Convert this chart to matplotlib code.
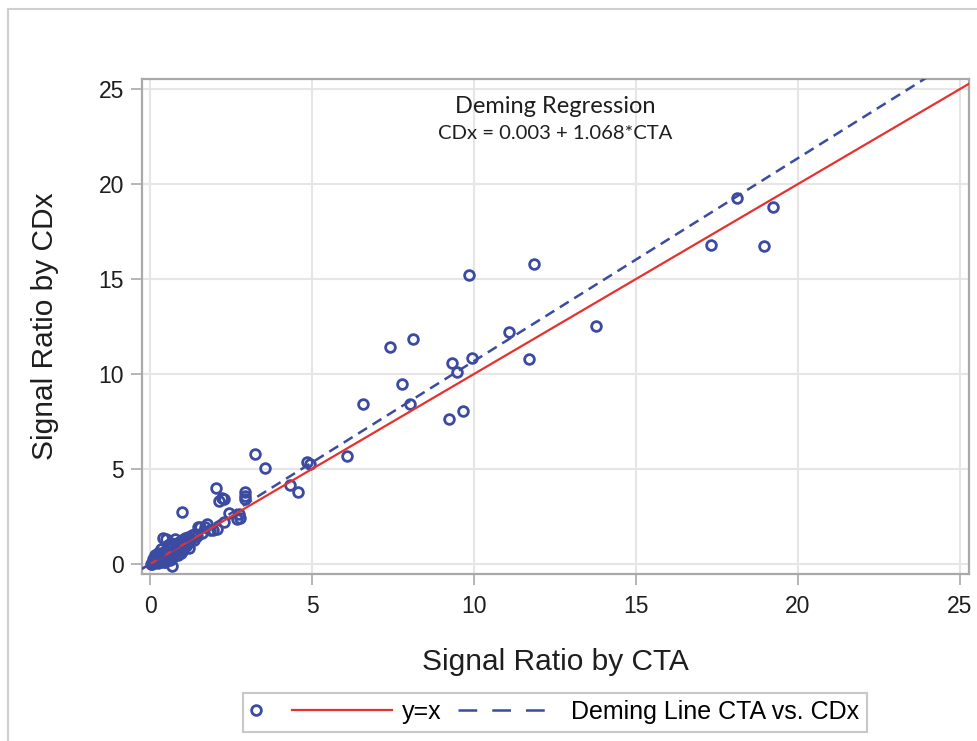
import numpy as np
import matplotlib.pyplot as plt
from matplotlib.lines import Line2D
from matplotlib.legend_handler import HandlerBase

# signal ratios (CTA on x, CDx on y)
cta = [0.02, 0.05, 0.07, 0.10, 0.12, 0.15, 0.17, 0.20, 0.22, 0.25,
       0.27, 0.30, 0.32, 0.35, 0.37, 0.40, 0.42, 0.45, 0.47, 0.50,
       0.52, 0.55, 0.57, 0.60, 0.62, 0.65, 0.67, 0.70, 0.72, 0.75,
       0.77, 0.80, 0.82, 0.85, 0.88, 0.90, 0.92, 0.95, 0.98, 1.00,
       1.03, 1.05, 1.08, 1.10, 1.13, 1.15, 1.18, 1.20, 1.25, 1.30,
       1.35, 1.40, 1.45, 1.49, 1.60, 1.70, 1.85, 0.41, 0.48, 0.35,
       0.25, 0.55, 0.60, 0.45, 0.85, 0.15, 0.08, 0.30, 0.70, 1.00,
       1.20, 0.65, 1.95, 2.05,
       1.00, 2.02, 2.12, 2.22, 2.29, 2.92, 2.92, 2.94, 2.44, 2.73,
       2.76, 2.68, 2.27, 1.75, 1.55, 3.23, 3.54, 4.83, 4.95, 4.33,
       4.56, 6.08, 6.57, 7.41, 8.11, 7.77, 8.01, 9.23, 9.65, 9.32,
       9.47, 9.93, 9.85, 11.84, 11.07, 11.71, 13.76, 17.31, 18.11, 19.24,
       18.95]
cdx = [0.00, 0.05, -0.02, 0.12, 0.05, 0.20, 0.10, 0.30, 0.15, 0.05,
       0.35, 0.25, 0.45, 0.20, 0.55, 0.35, 0.10, 0.60, 0.40, 0.75,
       0.30, 0.55, 0.85, 0.45, 0.35, 0.70, -0.09, 0.95, 0.60, 0.45,
       1.30, 0.80, 1.05, 0.65, 0.95, 1.15, 0.75, 0.60, 1.00, 1.25,
       0.85, 1.10, 1.35, 0.95, 1.20, 1.05, 1.40, 1.15, 1.30, 1.50,
       1.25, 1.60, 1.45, 1.93, 1.65, 1.95, 1.80, 1.35, 1.31, 0.80,
       0.60, 1.00, 0.20, 0.10, 0.45, 0.45, 0.25, 0.08, 0.35, 0.70,
       0.85, 1.10, 1.80, 1.85,
       2.75, 3.98, 3.32, 3.49, 3.42, 3.81, 3.60, 3.42, 2.70, 2.63,
       2.42, 2.35, 2.23, 2.10, 1.96, 5.77, 5.04, 5.35, 5.25, 4.16,
       3.79, 5.70, 8.44, 11.42, 11.83, 9.47, 8.44, 7.63, 8.03, 10.56,
       10.11, 10.86, 15.23, 15.79, 12.23, 10.79, 12.51, 16.79, 19.25, 18.81,
       16.74]

# Deming fit reported on the chart
intercept = 0.003
slope = 1.068
line_x = np.array([-0.25, 25.3])

ticks = [0, 5, 10, 15, 20, 25]

BLUE = "#3a4ba1"
RED = "#e5322f"
GRID = "#e6e6e6"
SPINE = "#a9a9a9"
TEXT = "#1e1e1e"


class SegmentHandler(HandlerBase):
    # legend handle drawn over only part of the handle box, with an optional marker in front
    def __init__(self, x0, x1, marker=None, marker_x=0.0, dashes=None):
        super().__init__()
        self.x0 = x0
        self.x1 = x1
        self.marker = marker
        self.marker_x = marker_x
        self.dashes = dashes

    def create_artists(self, legend, orig_handle, xdescent, ydescent,
                       width, height, fontsize, trans):
        y = height / 2 - ydescent
        seg = Line2D([self.x0 * width - xdescent, self.x1 * width - xdescent], [y, y])
        self.update_prop(seg, orig_handle, legend)
        if self.dashes is not None:
            seg.set_dashes(self.dashes)
        seg.set_transform(trans)
        out = [seg]
        if self.marker is not None:
            m = Line2D([self.marker_x * width - xdescent], [y])
            self.update_prop(m, self.marker, legend)
            m.set_transform(trans)
            out.append(m)
        return out


plt.rcParams["font.family"] = ["Liberation Sans", "DejaVu Sans"]

fig = plt.figure(figsize=(9.78, 7.41), dpi=100)
ax = fig.add_axes([142 / 978, 1 - 574 / 741, 827 / 978, 495 / 741])

# light frame around the whole graph, like the exported image
fig.add_artist(Line2D([8 / 978, 8 / 978], [-0.1, 1 - 9 / 741], transform=fig.transFigure,
                      color="#cfcfcf", lw=1.5))
fig.add_artist(Line2D([8 / 978, 1.1], [1 - 9 / 741, 1 - 9 / 741], transform=fig.transFigure,
                      color="#cfcfcf", lw=1.5))

ax.set_axisbelow(True)
ax.grid(True, color=GRID, lw=1.5)

pts, = ax.plot(cta, cdx, ls="none", marker="o", ms=7, mfc="none", mec=BLUE, mew=2.0,
               zorder=3)
ref, = ax.plot(line_x, line_x, color=RED, lw=1.6, zorder=4)
dem, = ax.plot(line_x, intercept + slope * line_x, color=BLUE, lw=1.8,
               dashes=(4.2, 2.6), zorder=4)

ax.set_xlim(-0.25, 25.28)
ax.set_ylim(-0.53, 25.53)
ax.set_xticks(ticks)
ax.set_yticks(ticks)
ax.tick_params(length=8, width=1.2, color=SPINE, labelsize=16.5, labelcolor=TEXT)
ax.tick_params(axis="x", pad=7)
ax.tick_params(axis="y", pad=5)
for s in ax.spines.values():
    s.set_color(SPINE)
    s.set_linewidth(1.6)

ax.set_xlabel("Signal Ratio by CTA", fontsize=21.5, color=TEXT, va="center")
ax.xaxis.set_label_coords(0.5, -0.178)
ax.set_ylabel("Signal Ratio by CDx", fontsize=21.5, color=TEXT, va="center")
ax.yaxis.set_label_coords(-0.117, 0.5)

ax.text(0.5, 0.945, "Deming Regression", transform=ax.transAxes, ha="center", va="center",
        fontsize=17, family="Lato", color=TEXT)
ax.text(0.5, 0.889, "CDx = 0.003 + 1.068*CTA", transform=ax.transAxes, ha="center",
        va="center", fontsize=14.6, family="Lato", color=TEXT)

fs = 18
leg = fig.legend([ref, dem], ["y=x", "Deming Line CTA vs. CDx"], ncol=2,
                 loc="center", bbox_to_anchor=(555 / 978, 1 - 712 / 741),
                 bbox_transform=fig.transFigure, fontsize=fs,
                 handlelength=5.66, handletextpad=0.4, columnspacing=-0.9,
                 borderpad=0.3, fancybox=False, framealpha=1, edgecolor="#c8c8c8",
                 handler_map={ref: SegmentHandler(0.294, 1.0, marker=pts, marker_x=0.033),
                              dem: SegmentHandler(0.272, 0.915, dashes=(7.5, 6.0))})
leg.get_frame().set_linewidth(1.5)

fig.savefig("out.png", dpi=100)
